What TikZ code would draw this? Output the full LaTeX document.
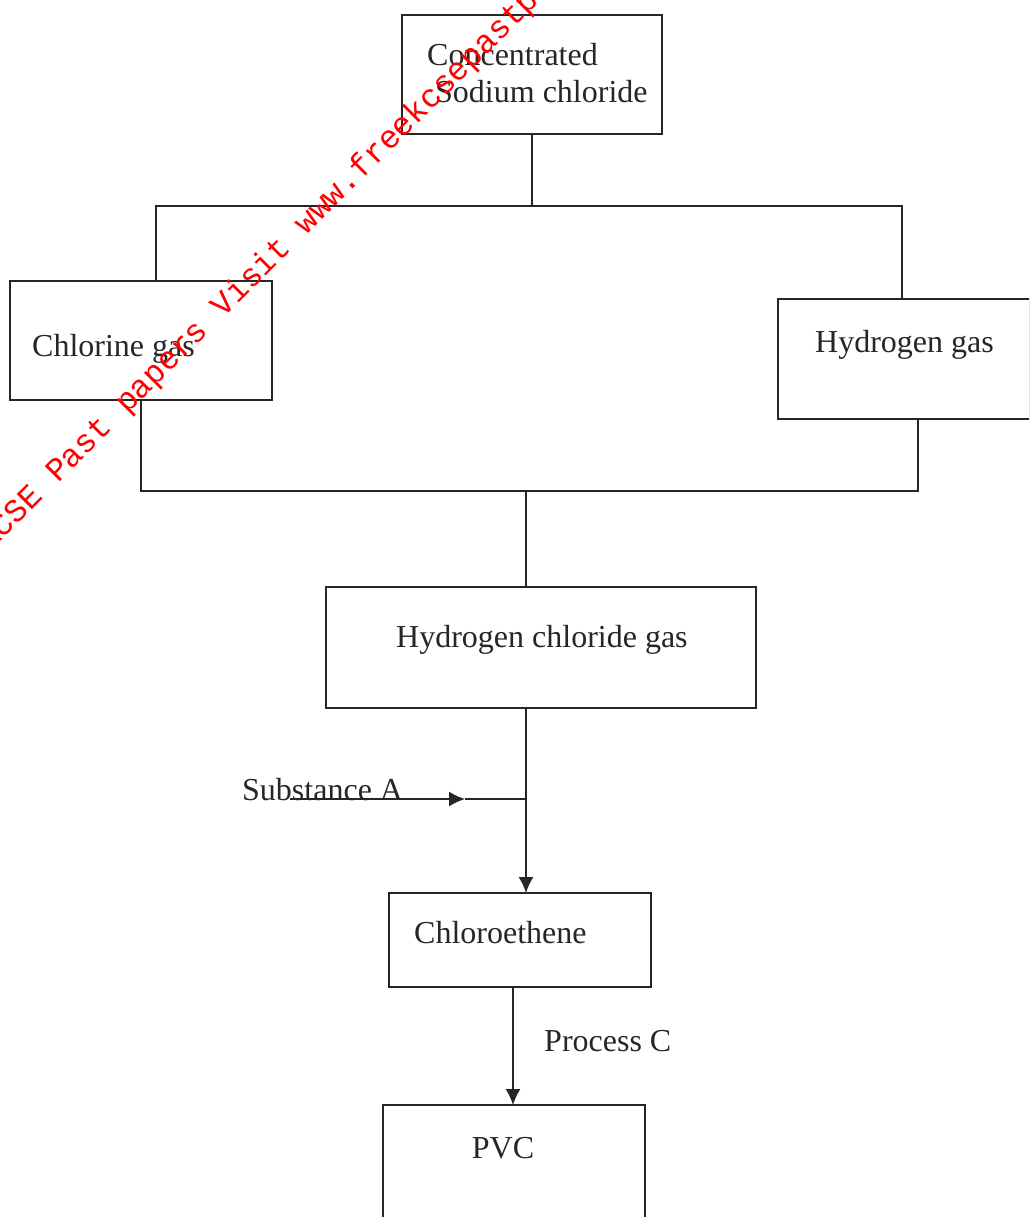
\documentclass[tikz,border=0pt]{standalone}
\usepackage{fontspec}
\setmainfont{Liberation Serif}
\newfontfamily\wmfont{Liberation Mono}
\usetikzlibrary{arrows.meta}
\begin{document}
\begin{tikzpicture}[x=1pt,y=-1pt,
  box/.style={draw=black!85, line width=1.6pt, inner sep=0pt, outer sep=0pt, rectangle},
  lbl/.style={font=\fontsize{32}{37}\selectfont, inner sep=0pt, anchor=west, text=black!85},
  conn/.style={draw=black!85, line width=1.6pt},
  tip/.style={-{Latex[length=16pt,width=15pt]}},
  wm/.style={font=\wmfont\fontsize{32.5}{32.5}\selectfont, text=red, inner sep=0pt}]
\useasboundingbox (0,0) rectangle (1029,1217);
\clip (0,0) rectangle (1029,1217);
\fill[white] (0,0) rectangle (1029,1217);
% boxes
\node[box, minimum width=260pt, minimum height=119pt] (top) at (532,74.5) {};
\node[box, minimum width=262pt, minimum height=119pt] (chl) at (141,340.5) {};
\node[box, minimum width=252pt, minimum height=120pt] (hyd) at (904,359) {};
\node[box, minimum width=430pt, minimum height=121pt] (hcl) at (541,647.5) {};
\node[box, minimum width=262pt, minimum height=94pt] (cle) at (520,940) {};
\node[box, minimum width=262pt, minimum height=125pt] (pvc) at (514,1167.5) {};
% labels
\node[lbl, align=left] (tTop) at (427,73) {Concentrated\\\hspace*{8pt}Sodium chloride};
\node[lbl] (tChl) at (32,349) {Chlorine gas};
\node[lbl] (tHyd) at (815,345) {Hydrogen gas};
\node[lbl] (tHcl) at (396,640) {Hydrogen chloride gas};
\node[lbl] (tSub) at (242,790) {Substance A};
\node[lbl] (tCle) at (414,933) {Chloroethene};
\node[lbl] (tPro) at (544,1041) {Process C};
\node[lbl, anchor=center] (tPvc) at (503,1148) {PVC};
% junction coordinates
\coordinate (j1) at (532,206);
\coordinate (cl1) at (156,206);
\coordinate (cr1) at (902,206);
\coordinate (cl2) at (141,491);
\coordinate (cr2) at (918,491);
\coordinate (j2) at (526,491);
\coordinate (j3) at (526,799);
\coordinate (sa) at (290,799);
\coordinate (tipA) at (465,799);
\coordinate (pc) at (513,1000);
% connectors
\draw[conn] (top.south) -- (j1);
\draw[conn] (cl1 |- chl.north) -- (cl1) -- (cr1) -- (cr1 |- hyd.north);
\draw[conn] (chl.south) -- (cl2) -- (cr2) -- (cr2 |- hyd.south);
\draw[conn] (j2) -- (j2 |- hcl.north);
\draw[conn, tip] (j2 |- hcl.south) -- (j2 |- cle.north);
\draw[conn, tip] (sa) -- (tipA);
\draw[conn] (tipA) -- (j3);
\draw[conn, tip] (pc |- cle.south) -- (pc |- pvc.north);
% watermark
\node[wm, anchor=base west, rotate=45] (wmark) at (-11,553) {KCSE Past papers Visit www.freekcsepastpapers.com};
\end{tikzpicture}
\end{document}
